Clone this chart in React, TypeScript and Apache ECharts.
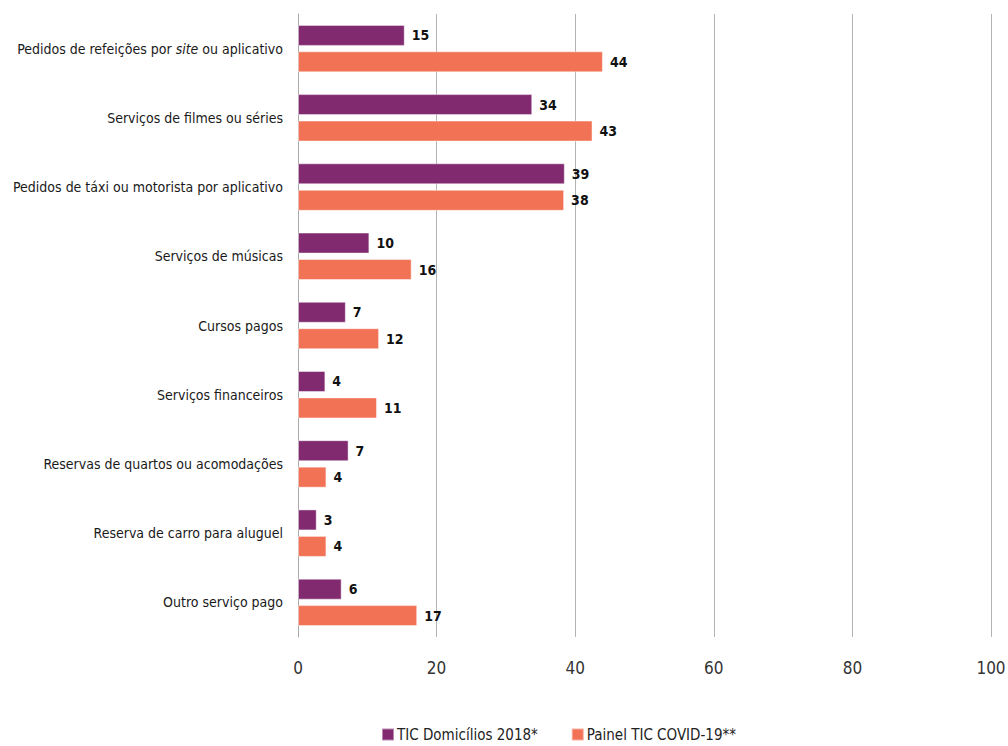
import React, { useEffect, useRef } from "react";
import * as echarts from "echarts";

const categories = [
  "Pedidos de refeições por {i|site} ou aplicativo",
  "Serviços de filmes ou séries",
  "Pedidos de táxi ou motorista por aplicativo",
  "Serviços de músicas",
  "Cursos pagos",
  "Serviços financeiros",
  "Reservas de quartos ou acomodações",
  "Reserva de carro para aluguel",
  "Outro serviço pago",
];

const seriesNames = ["TIC Domicílios 2018*", "Painel TIC COVID-19**"];

const tic2018 = [15.4, 33.8, 38.5, 10.3, 6.9, 3.95, 7.3, 2.7, 6.3];
const covid19 = [44.0, 42.5, 38.4, 16.4, 11.7, 11.4, 4.1, 4.1, 17.2];

const xTicks = { min: 0, max: 100, interval: 20 };

const FONT = "'DejaVu Sans Condensed', 'Liberation Sans Narrow', 'Roboto', sans-serif";
const PURPLE = "#812a70";
const ORANGE = "#f27255";

export default function App() {
  const ref = useRef<HTMLDivElement>(null);

  useEffect(() => {
    document.body.style.margin = "0";
    if (!ref.current) return;
    const chart = echarts.init(ref.current, null, { renderer: "svg" });

    const labelCfg = {
      show: true,
      position: "right",
      distance: 7,
      fontFamily: FONT,
      fontSize: 14,
      fontWeight: "bold",
      color: "#111",
      formatter: (p: any) => String(Math.round(p.value)),
    };

    chart.setOption({
      animation: false,
      textStyle: { fontFamily: FONT },
      grid: {
        left: 298,
        right: 17,
        top: 14,
        bottom: 109,
        containLabel: false,
        outerBoundsMode: "none",
      },
      legend: {
        data: seriesNames,
        top: 722,
        left: 376,
        itemWidth: 12,
        itemHeight: 12,
        itemGap: 33,
        icon: "rect",
        textStyle: { fontFamily: FONT, fontSize: 15, color: "#222", padding: [0, 0, 0, -2] },
      },
      xAxis: {
        type: "value",
        min: xTicks.min,
        max: xTicks.max,
        interval: xTicks.interval,
        axisLine: { show: false },
        axisTick: { show: false },
        axisLabel: { fontFamily: FONT, fontSize: 17, color: "#333", margin: 22 },
        splitLine: { show: true, lineStyle: { color: "#b4b4b4", width: 1 } },
      },
      yAxis: {
        type: "category",
        data: categories,
        inverse: true,
        axisLine: { show: true, lineStyle: { color: "#aaaaaa", width: 1 } },
        axisTick: { show: false },
        axisLabel: {
          fontFamily: FONT,
          fontSize: 14,
          color: "#1a1a1a",
          margin: 15,
          rich: {
            i: { fontFamily: FONT, fontSize: 14, fontStyle: "italic", color: "#1a1a1a" },
          },
        },
      },
      series: [
        {
          name: seriesNames[0],
          type: "bar",
          data: tic2018,
          barWidth: 21,
          barGap: "26%",
          itemStyle: { color: PURPLE, borderColor: "rgba(255,255,255,0.45)", borderWidth: 1 },
          label: labelCfg,
        },
        {
          name: seriesNames[1],
          type: "bar",
          data: covid19,
          barWidth: 21,
          barGap: "26%",
          itemStyle: { color: ORANGE, borderColor: "rgba(255,255,255,0.45)", borderWidth: 1 },
          label: labelCfg,
        },
      ],
    });

    return () => chart.dispose();
  }, []);

  return <div ref={ref} style={{ width: 1008, height: 746 }} />;
}
